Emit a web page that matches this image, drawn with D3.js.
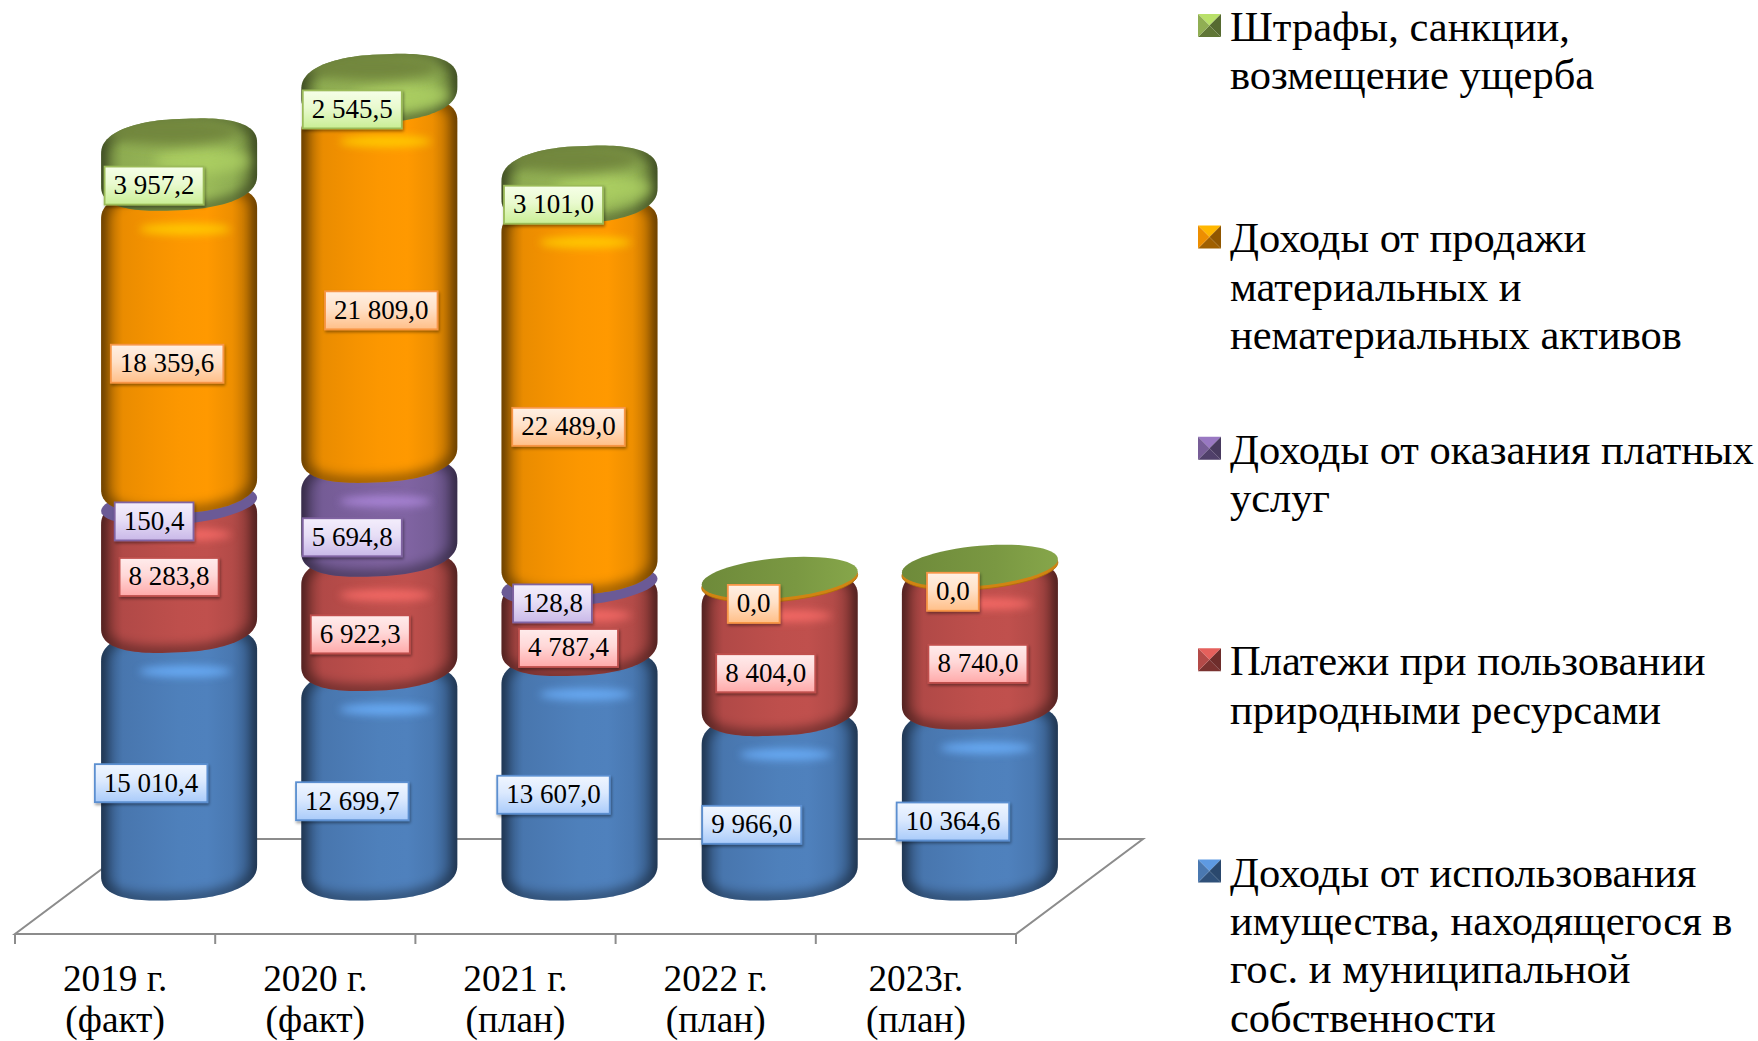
<!DOCTYPE html>
<html lang="ru"><head><meta charset="utf-8">
<script src="https://cdn.jsdelivr.net/npm/d3@7/dist/d3.min.js"></script>
<style>html,body{margin:0;background:#fff}svg{display:block}text{font-family:"Liberation Serif","Times New Roman",serif;fill:#000}</style>
</head><body><svg id="c" width="1758" height="1041"></svg>
<script>
const categories = [["2019 г.","(факт)"],["2020 г.","(факт)"],["2021 г.","(план)"],["2022 г.","(план)"],["2023г.","(план)"]];
const seriesNames = ["property","resources","services","assets","fines"];
const property  = [15010.4,12699.7,13607.0,9966.0,10364.6];
const resources = [8283.8,6922.3,4787.4,8404.0,8740.0];
const services  = [150.4,5694.8,128.8,null,null];
const assets    = [18359.6,21809.0,22489.0,0,0];
const fines     = [3957.2,2545.5,3101.0,null,null];
const seriesValues = [property,resources,services,assets,fines];
const seriesColors = ["#4f81bd","#c0504d","#8064a2","#ff9900","#9bbb59"];
const seriesEdges  = ["#2f5079","#7a3230","#50406a","#a06000","#607636"];
const labelBorders = ["#5b8fd0","#c0504d","#8064a2","#f79646","#9bbb59"];
const labelTops    = ["#f0f6ff","#ffecec","#f4eefc","#fff0e4","#f6ffe8"];
const labelBottoms = ["#a9cbfa","#ffa9a9","#c9b8e8","#ffbf88","#c9ee94"];
const legendLines = [
 ["Штрафы, санкции,","возмещение ущерба"],
 ["Доходы от продажи","материальных и","нематериальных активов"],
 ["Доходы от оказания платных","услуг"],
 ["Платежи при пользовании","природными ресурсами"],
 ["Доходы от использования","имущества, находящегося в","гос. и муниципальной","собственности"]];
const legendSeries = [4,3,2,1,0];
// label nudges relative to the bar centre / segment middle
const labelDx = [[-28,-27,-26,-28,-27],[-10,-19,-11,-14,-2],[-25,-27,-27,0,0],[-12,2,-11,-26,-27],[-25,-27,-26,0,0]];
const labelDy = [[27,26,27,27,27],[13,21,32,27,27],[27,28,28,0,0],[22,28,38,27,27],[28,28,27,0,0]];

const fmt = v => { const [a,b]=v.toFixed(1).split("."); return a.replace(/\B(?=(\d{3})+$)/g," ")+","+b; };
const svg = d3.select("#c"), defs = svg.append("defs");
const x = d3.scaleBand().domain(categories.map((c,i)=>i)).range([15,1016]);
const y = d3.scaleLinear().domain([0,50000]).range([880,55]);
const RX=78, RY=20, TILT=6.7, DEPTHX=127, BACK=839, FRONT=934, CX=64;
const cxOf = i => x(i)+x.bandwidth()/2+CX;

const blur = (id,s)=>defs.append("filter").attr("id",id).attr("x","-40%").attr("y","-80%").attr("width","180%").attr("height","260%").append("feGaussianBlur").attr("stdDeviation",s);
blur("b6",6); blur("b4",4); blur("b3",3);
const sh = defs.append("filter").attr("id","shadow").attr("x","-10%").attr("y","-15%").attr("width","125%").attr("height","140%");
sh.append("feDropShadow").attr("dx",1).attr("dy",2).attr("stdDeviation",1.6).attr("flood-color","#000").attr("flood-opacity",.4);

seriesColors.forEach((c,s)=>{
  const g=defs.append("linearGradient").attr("id","body"+s);
  const b=d3.color(c), e=seriesEdges[s], mix=d3.interpolateRgb(e,c);
  [[0,e],[.05,mix(.35)],[.14,mix(.78)],[.35,mix(.9)],[.5,mix(.97)],[.68,b],[.84,mix(.82)],[.95,mix(.35)],[1,e]]
    .forEach(([o,col])=>g.append("stop").attr("offset",o).attr("stop-color",col));
  const l=defs.append("linearGradient").attr("id","lab"+s).attr("x2",0).attr("y2",1);
  l.append("stop").attr("offset",0).attr("stop-color",labelTops[s]);
  l.append("stop").attr("offset",.45).attr("stop-color",d3.interpolateRgb(labelTops[s],labelBottoms[s])(.3));
  l.append("stop").attr("offset",1).attr("stop-color",labelBottoms[s]);
});

// floor and axis
const axisG = svg.append("g").attr("stroke","#8c8c8c").attr("stroke-width",2).attr("fill","none");
axisG.append("path").attr("d",d3.line()([[x.range()[0],FRONT],[x.range()[1],FRONT],[x.range()[1]+DEPTHX,BACK],[x.range()[0]+DEPTHX,BACK]])+"Z");
const ticks=[...categories.keys()].map(i=>x(i)).concat(x.range()[1]);
axisG.selectAll(".t").data(ticks).join("line").attr("x1",d=>d).attr("x2",d=>d).attr("y1",FRONT).attr("y2",FRONT+10);
const catLabels = svg.append("g").attr("text-anchor","middle").style("font-size","37.3px");
categories.forEach((c,i)=>c.forEach((t,j)=>catLabels.append("text").attr("x",x(i)+x.bandwidth()/2).attr("y",990.5+j*41.5).text(t)));

function rim(cx,cy,t0,t1,p,rx=RX,ry=RY,k=TILT){
  const pts=[],n=60,pw=v=>Math.sign(v)*Math.pow(Math.abs(v),p);
  for(let j=0;j<=n;j++){const t=t0+(t1-t0)*j/n,c=pw(Math.cos(t)),s=pw(Math.sin(t));
    pts.push([cx+rx*c,cy+ry*s-k*Math.cos(t)]);}
  return pts;
}
const line=d3.line();
const P=Math.PI, BEVEL=.82, THIN=12, SHOULDER_RY=30, TOP_OFF=24, BOT_RY=30, BOT_OFF=10, SK=5.5;
const bars=svg.append("g"), labels=[];
categories.forEach((c,i)=>{
  const cx=cxOf(i); let cum=0;
  seriesValues.forEach((vals,s)=>{
    const v=vals[i];
    const isDiscTop = s===4 && v==null;
    const lastCap = s===4 && v!=null;
    if(v==null && !isDiscTop) return;
    const v0=cum, v1=cum+(v||0); cum=v1;
    const yb=y(v0), yt=y(v1), h=yb-yt;
    const g=bars.append("g");
    if(h<THIN){
      const cy = isDiscTop ? yt+1 : (v===0 ? yt+4.5 : (yb+yt)/2+10);
      const d=line(rim(cx,cy,0,2*P,1))+"Z";
      if(v===0){
        g.append("path").attr("d",d).attr("fill","#d08412").attr("stroke","#b06e08").attr("stroke-width",.8);
      } else if(isDiscTop){
        const gid="disc"+i;
        const gr=defs.append("linearGradient").attr("id",gid);
        gr.append("stop").attr("offset",0).attr("stop-color","#6e8a3a");
        gr.append("stop").attr("offset",.6).attr("stop-color","#7a9842");
        gr.append("stop").attr("offset",1).attr("stop-color","#86a64a");
        g.append("path").attr("d",d).attr("fill",`url(#${gid})`);
      } else g.append("path").attr("d",d).attr("fill","#6b5a96");
    } else {
      const topC=yt+TOP_OFF, botC=yb-BOT_OFF;
      const d=line(rim(cx,topC,P,2*P,BEVEL,RX,SHOULDER_RY,SK).concat(rim(cx,botC,0,P,BEVEL,RX,BOT_RY,SK)))+"Z";
      const id=`clip${i}_${s}`;
      defs.append("clipPath").attr("id",id).append("path").attr("d",d);
      g.append("path").attr("d",d).attr("fill",`url(#body${s})`);
      const inner=g.append("g").attr("clip-path",`url(#${id})`);
      inner.append("path").attr("d",d).attr("fill","none").attr("stroke","#000").attr("stroke-opacity",.42).attr("stroke-width",12).attr("filter","url(#b6)");
      const base=d3.color(seriesColors[s]);
      if(lastCap){
        inner.append("ellipse").attr("cx",cx+24).attr("cy",topC+12).attr("rx",48).attr("ry",13).attr("fill",base.brighter(.35)).attr("opacity",.7).attr("filter","url(#b6)");
        inner.append("ellipse").attr("cx",cx-6).attr("cy",topC-17).attr("rx",66).attr("ry",14).attr("fill","#72873e").attr("filter","url(#b6)");
      } else {
        inner.append("ellipse").attr("cx",cx+6).attr("cy",topC+15).attr("rx",46).attr("ry",5.5).attr("fill",base.brighter(.9)).attr("opacity",.85).attr("filter","url(#b4)");
      }
    }
    if(v!=null) labels.push({i,s,v,x:cx+labelDx[s][i],y:(yb+yt)/2+labelDy[s][i]});
  });
});

// value labels
const lab=svg.append("g").style("font-size","27px").attr("text-anchor","middle");
labels.forEach(d=>{
  const g=lab.append("g");
  const t=g.append("text").attr("x",d.x).attr("y",d.y+8.5).text(fmt(d.v));
  const w=t.node().getComputedTextLength()+18, H=38;
  g.insert("rect","text").attr("x",d.x-w/2).attr("y",d.y-H/2).attr("width",w).attr("height",H)
   .attr("fill",`url(#lab${d.s})`).attr("stroke",labelBorders[d.s]).attr("stroke-width",1.8).attr("filter","url(#shadow)");
});

// legend
const LEG_X=1198, LEG_T=1230, LEG_BASE=41, LEG_STEP=211.4, LEG_LH=48.3;
const leg=svg.append("g");
legendLines.forEach((lines,r)=>{
  const s=legendSeries[r], c=seriesColors[s], yb=LEG_BASE+r*LEG_STEP, sy=yb-27, S=23, x0=LEG_X;
  const m=[x0+S/2,sy+S/2], a=[x0,sy],b=[x0+S,sy],e=[x0+S,sy+S],f=[x0,sy+S];
  const col=d3.color(c);
  [[a,b,col.brighter(.5)],[b,e,d3.color(seriesEdges[s]).darker(.3)],[e,f,d3.color(seriesEdges[s])],[f,a,col.darker(.2)]]
   .forEach(([p,q,fill])=>leg.append("path").attr("d",line([p,q,m])+"Z").attr("fill",fill));
  lines.forEach((t,j)=>leg.append("text").attr("x",LEG_T).attr("y",yb+j*LEG_LH).style("font-size","42.5px").text(t));
});
</script></body></html>
